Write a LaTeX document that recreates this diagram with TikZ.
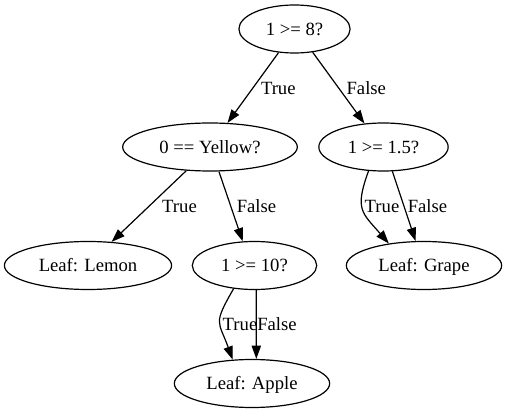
\documentclass[tikz,border=0pt]{standalone}
\usepackage{fontspec}
\setmainfont{Liberation Serif}
\usetikzlibrary{shapes.geometric,arrows.meta}
\begin{document}
\begin{tikzpicture}[x=0.75pt,y=-0.75pt,
  ell/.style={ellipse, draw, line width=0.9pt, minimum height=36pt, minimum width=#1, inner sep=0pt, text height=9.3pt, text depth=0pt, font=\fontsize{14pt}{16pt}\selectfont},
  edge/.style={line width=0.9pt, -{Triangle[length=10pt,width=7pt]}},
  lbl/.style={inner sep=0pt, font=\fontsize{14pt}{16pt}\selectfont}]
\fill[white] (0,0) rectangle (507,413);
\useasboundingbox (0,0) rectangle (507,413);
\node[ell=83.4pt]  (root)   at (294.5,29)  {1 >= 8?};
\node[ell=131pt]   (yellow) at (210,147)   {0 == Yellow?};
\node[ell=97pt]    (n15)    at (383.5,147) {1 >= 1.5?};
\node[ell=125.4pt] (lemon)  at (88,265.5)  {Leaf: Lemon};
\node[ell=93.3pt]  (n10)    at (254.5,265.5) {1 >= 10?};
\node[ell=116.5pt] (grape)  at (424,265.5) {Leaf: Grape};
\node[ell=116.5pt] (apple)  at (252,383.5) {Leaf: Apple};
\draw[edge] (root.236) -- (yellow.54);
\draw[edge] (root.308) -- (n15.129);
\draw[edge] (yellow.225) -- (lemon.45);
\draw[edge] (yellow.290) -- (n10.116);
\draw[edge] (n15.238) to[out=250,in=131,looseness=1.4] (grape.148);
\draw[edge] (n15.290) -- (grape.109);
\draw[edge] (n10.228) to[out=240,in=110,looseness=1.5] (apple.129);
\draw[edge] (n10.274) -- (apple.80);
\node[lbl] (l1) at (278.3,88) {True};
\node[lbl] (l2) at (366.3,88) {False};
\node[lbl] (l3) at (179.5,206) {True};
\node[lbl] (l4) at (256.5,206) {False};
\node[lbl] (l5) at (382,206) {True};
\node[lbl] (l6) at (427.5,206) {False};
\node[lbl] (l7) at (240,324) {True};
\node[lbl] (l8) at (277,324) {False};
\end{tikzpicture}
\end{document}
